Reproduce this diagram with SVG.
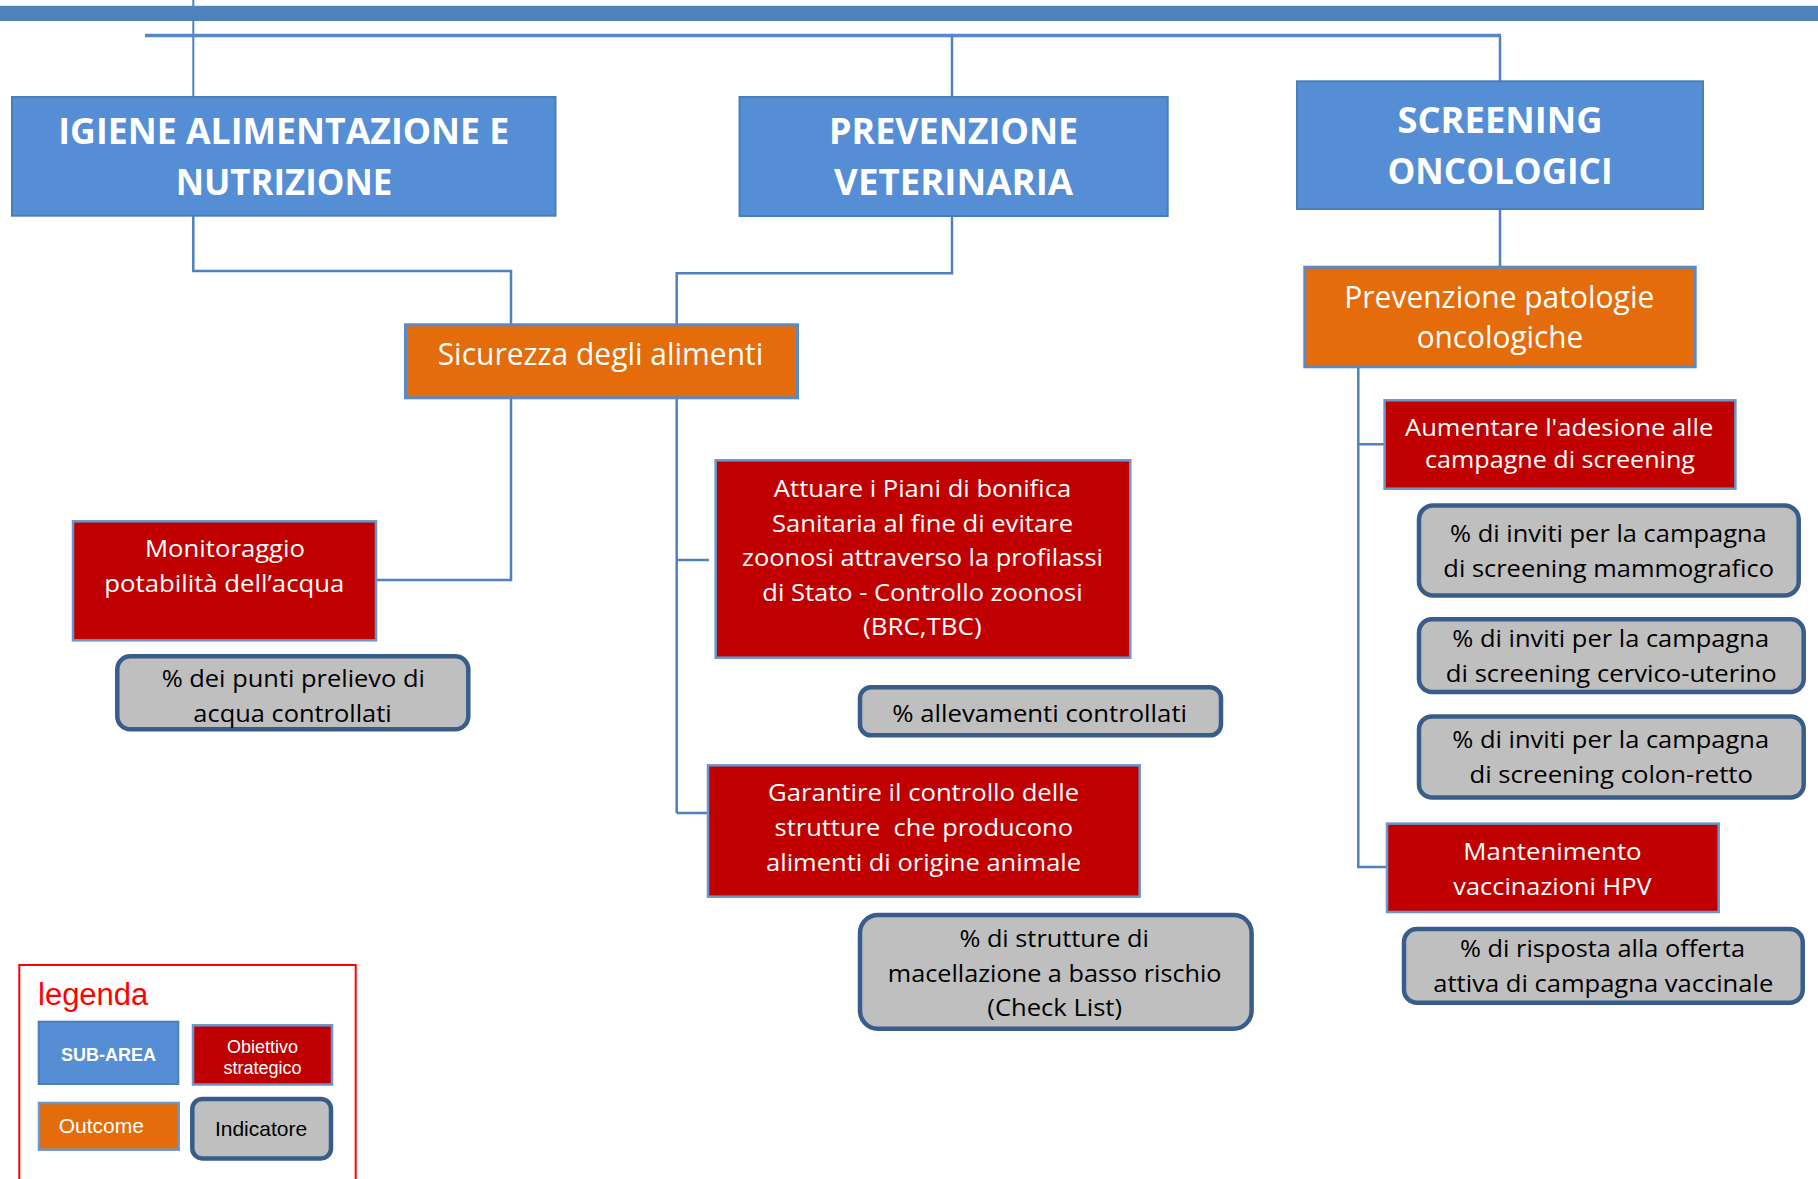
<svg xmlns="http://www.w3.org/2000/svg" width="1818" height="1179" viewBox="0 0 1818 1179">
  <style>
    .area { fill: #558ED5; stroke: #4A7EBB; stroke-width: 2; }
    .outcome { fill: #E46C0A; stroke: #5A8AC6; stroke-width: 3; }
    .goal { fill: #C00000; stroke: #6A96CC; stroke-width: 2.5; }
    .ind { fill: #BFBFBF; stroke: #385D8A; stroke-width: 4.5; }
    .wire { fill: none; stroke: #4F81BD; stroke-width: 2.5; }
    .t-area { font-family: "Open Sans", "DejaVu Sans", sans-serif; font-weight: bold; font-size: 36px; fill: #FFFFFF; text-anchor: middle; }
    .t-out { font-family: "Open Sans", "DejaVu Sans", sans-serif; font-size: 31px; fill: #FFFFFF; text-anchor: middle; }
    .t-goal { font-family: "Open Sans", "DejaVu Sans", sans-serif; font-size: 24.5px; fill: #FFFFFF; text-anchor: middle; }
    .t-ind { font-family: "Open Sans", "DejaVu Sans", sans-serif; font-size: 24.5px; fill: #000000; text-anchor: middle; }
    .t-leg { font-family: "Liberation Sans", Arial, sans-serif; }
  </style>

  <!-- top banner and trunk -->
  <g id="banner">
    <line x1="193.3" y1="0" x2="193.3" y2="96" stroke="#4F81BD" stroke-width="2"/>
    <rect x="0" y="5.8" width="1818" height="15.2" fill="#4F81BD"/>
  </g>

  <!-- connectors -->
  <g id="connectors">
    <line x1="145" y1="35.6" x2="1501" y2="35.6" stroke="#5A87C5" stroke-width="3.5"/>
    <line x1="952" y1="36" x2="952" y2="97" class="wire"/>
    <line x1="1500" y1="36" x2="1500" y2="81" class="wire"/>
    <path class="wire" d="M193.3 216 V271 H511 V324"/>
    <path class="wire" d="M952 216 V273.3 H676.7 V324"/>
    <path class="wire" d="M511 399 V580 H377"/>
    <path class="wire" d="M676.7 399 V813 M676.7 560 H709 M676.7 813 H707"/>
    <path class="wire" d="M1500 209 V266"/>
    <path class="wire" d="M1358.3 368 V867 H1386 M1358.3 444.3 H1384"/>
  </g>

  <!-- sub-areas -->
  <g id="igiene">
    <rect class="area" x="12" y="97" width="543.5" height="118.7"/>
    <text class="t-area" x="283.8" y="144" textLength="451" lengthAdjust="spacingAndGlyphs">IGIENE ALIMENTAZIONE E</text>
    <text class="t-area" x="284" y="195" textLength="216.7" lengthAdjust="spacingAndGlyphs">NUTRIZIONE</text>
  </g>
  <g id="veterinaria">
    <rect class="area" x="739.5" y="97" width="428.2" height="119"/>
    <text class="t-area" x="953.6" y="144" textLength="249" lengthAdjust="spacingAndGlyphs">PREVENZIONE</text>
    <text class="t-area" x="953.6" y="195" textLength="239" lengthAdjust="spacingAndGlyphs">VETERINARIA</text>
  </g>
  <g id="screening">
    <rect class="area" x="1297" y="81.3" width="406" height="127.7"/>
    <text class="t-area" x="1500" y="132.8" textLength="205" lengthAdjust="spacingAndGlyphs">SCREENING</text>
    <text class="t-area" x="1500" y="183.5" textLength="225" lengthAdjust="spacingAndGlyphs">ONCOLOGICI</text>
  </g>

  <!-- outcomes -->
  <g id="sicurezza">
    <rect class="outcome" x="405.5" y="324.8" width="392" height="73"/>
    <text class="t-out" x="600.5" y="365" textLength="325.6" lengthAdjust="spacingAndGlyphs">Sicurezza degli alimenti</text>
  </g>
  <g id="patologie">
    <rect class="outcome" x="1304.8" y="267.2" width="390.4" height="99.6"/>
    <text class="t-out" x="1499.3" y="308.3" textLength="310" lengthAdjust="spacingAndGlyphs">Prevenzione patologie</text>
    <text class="t-out" x="1500" y="347.7" textLength="166.7" lengthAdjust="spacingAndGlyphs">oncologiche</text>
  </g>

  <!-- strategic goals -->
  <g id="monitoraggio">
    <rect class="goal" x="73" y="521.3" width="303" height="119"/>
    <text class="t-goal" x="225" y="556.7" textLength="160" lengthAdjust="spacingAndGlyphs">Monitoraggio</text>
    <text class="t-goal" x="224.3" y="591.7" textLength="240" lengthAdjust="spacingAndGlyphs">potabilità dell’acqua</text>
  </g>
  <g id="bonifica">
    <rect class="goal" x="715.7" y="460.3" width="414.6" height="197.4"/>
    <text class="t-goal" x="922.5" y="497.4" textLength="297.3" lengthAdjust="spacingAndGlyphs">Attuare i Piani di bonifica</text>
    <text class="t-goal" x="922.5" y="531.8" textLength="301" lengthAdjust="spacingAndGlyphs">Sanitaria al fine di evitare</text>
    <text class="t-goal" x="922.5" y="566.3" textLength="360.9" lengthAdjust="spacingAndGlyphs">zoonosi attraverso la profilassi</text>
    <text class="t-goal" x="922.5" y="600.7" textLength="320.3" lengthAdjust="spacingAndGlyphs">di Stato - Controllo zoonosi</text>
    <text class="t-goal" x="922.3" y="635.2" textLength="118.6" lengthAdjust="spacingAndGlyphs">(BRC,TBC)</text>
  </g>
  <g id="strutture">
    <rect class="goal" x="708" y="765.3" width="431.7" height="131.4"/>
    <text class="t-goal" x="923.6" y="800.9" textLength="311" lengthAdjust="spacingAndGlyphs">Garantire il controllo delle</text>
    <text class="t-goal" x="923.8" y="836" textLength="298.5" lengthAdjust="spacingAndGlyphs" style="white-space:pre">strutture  che producono</text>
    <text class="t-goal" x="923.6" y="870.5" textLength="315" lengthAdjust="spacingAndGlyphs">alimenti di origine animale</text>
  </g>
  <g id="adesione">
    <rect class="goal" x="1384.6" y="400.3" width="350.8" height="88.4"/>
    <text class="t-goal" x="1559.2" y="436" textLength="308.3" lengthAdjust="spacingAndGlyphs">Aumentare l'adesione alle</text>
    <text class="t-goal" x="1560" y="468.3" textLength="270" lengthAdjust="spacingAndGlyphs">campagne di screening</text>
  </g>
  <g id="hpv">
    <rect class="goal" x="1387" y="823.6" width="331.7" height="88.4"/>
    <text class="t-goal" x="1552.5" y="860" textLength="178.3" lengthAdjust="spacingAndGlyphs">Mantenimento</text>
    <text class="t-goal" x="1552.5" y="895" textLength="198.3" lengthAdjust="spacingAndGlyphs">vaccinazioni HPV</text>
  </g>

  <!-- indicators -->
  <g id="ind-acqua">
    <rect class="ind" x="117.3" y="656.3" width="351" height="73" rx="13"/>
    <text class="t-ind" x="293.3" y="686.7" textLength="263.3" lengthAdjust="spacingAndGlyphs">% dei punti prelievo di</text>
    <text class="t-ind" x="292.5" y="721.7" textLength="198.3" lengthAdjust="spacingAndGlyphs">acqua controllati</text>
  </g>
  <g id="ind-allevamenti">
    <rect class="ind" x="860" y="687.3" width="361" height="48" rx="11"/>
    <text class="t-ind" x="1039.7" y="722.4" textLength="294.7" lengthAdjust="spacingAndGlyphs">% allevamenti controllati</text>
  </g>
  <g id="ind-macellazione">
    <rect class="ind" x="860" y="915" width="391.6" height="113.8" rx="18"/>
    <text class="t-ind" x="1054.1" y="947" textLength="189.4" lengthAdjust="spacingAndGlyphs">% di strutture di</text>
    <text class="t-ind" x="1054.7" y="981.5" textLength="333.7" lengthAdjust="spacingAndGlyphs">macellazione a basso rischio</text>
    <text class="t-ind" x="1054.7" y="1016" textLength="134.7" lengthAdjust="spacingAndGlyphs">(Check List)</text>
  </g>
  <g id="ind-mammografico">
    <rect class="ind" x="1419" y="505.6" width="379.7" height="89.8" rx="14"/>
    <text class="t-ind" x="1608.4" y="541.7" textLength="316.7" lengthAdjust="spacingAndGlyphs">% di inviti per la campagna</text>
    <text class="t-ind" x="1608.7" y="576.7" textLength="330.7" lengthAdjust="spacingAndGlyphs">di screening mammografico</text>
  </g>
  <g id="ind-cervico">
    <rect class="ind" x="1419" y="619.3" width="384.7" height="72.6" rx="13"/>
    <text class="t-ind" x="1610.7" y="647.4" textLength="316.7" lengthAdjust="spacingAndGlyphs">% di inviti per la campagna</text>
    <text class="t-ind" x="1611.3" y="682.2" textLength="331" lengthAdjust="spacingAndGlyphs">di screening cervico-uterino</text>
  </g>
  <g id="ind-colon">
    <rect class="ind" x="1419" y="716.4" width="384.7" height="81" rx="13"/>
    <text class="t-ind" x="1610.7" y="748.4" textLength="316.7" lengthAdjust="spacingAndGlyphs">% di inviti per la campagna</text>
    <text class="t-ind" x="1611.2" y="783.2" textLength="283.5" lengthAdjust="spacingAndGlyphs">di screening colon-retto</text>
  </g>
  <g id="ind-vaccinale">
    <rect class="ind" x="1404" y="929" width="398.7" height="73.7" rx="13"/>
    <text class="t-ind" x="1602.5" y="956.7" textLength="285" lengthAdjust="spacingAndGlyphs">% di risposta alla offerta</text>
    <text class="t-ind" x="1603.3" y="991.7" textLength="340" lengthAdjust="spacingAndGlyphs">attiva di campagna vaccinale</text>
  </g>

  <!-- key -->
  <g id="legenda">
    <rect x="19.3" y="965" width="336.4" height="230" fill="none" stroke="#FF0000" stroke-width="2"/>
    <text class="t-leg" x="38" y="1005" font-size="31" fill="#FF0000">legenda</text>
    <rect class="area" x="38.7" y="1021.7" width="139.6" height="62.3"/>
    <text class="t-leg" x="108.5" y="1060.7" font-size="18" font-weight="bold" fill="#FFFFFF" text-anchor="middle">SUB-AREA</text>
    <rect class="goal" x="193" y="1025.3" width="139" height="59.2"/>
    <text class="t-leg" x="262.5" y="1053.3" font-size="18" fill="#FFFFFF" text-anchor="middle">Obiettivo</text>
    <text class="t-leg" x="262.5" y="1074.3" font-size="18" fill="#FFFFFF" text-anchor="middle">strategico</text>
    <rect x="39" y="1103" width="139.7" height="46.7" fill="#E46C0A" stroke="#6A96CC" stroke-width="2.5"/>
    <text class="t-leg" x="58.7" y="1132.7" font-size="21" fill="#FFFFFF">Outcome</text>
    <rect class="ind" x="192.3" y="1099" width="138.7" height="59.4" rx="10"/>
    <text class="t-leg" x="261" y="1136" font-size="21" fill="#000000" text-anchor="middle">Indicatore</text>
  </g>
</svg>
